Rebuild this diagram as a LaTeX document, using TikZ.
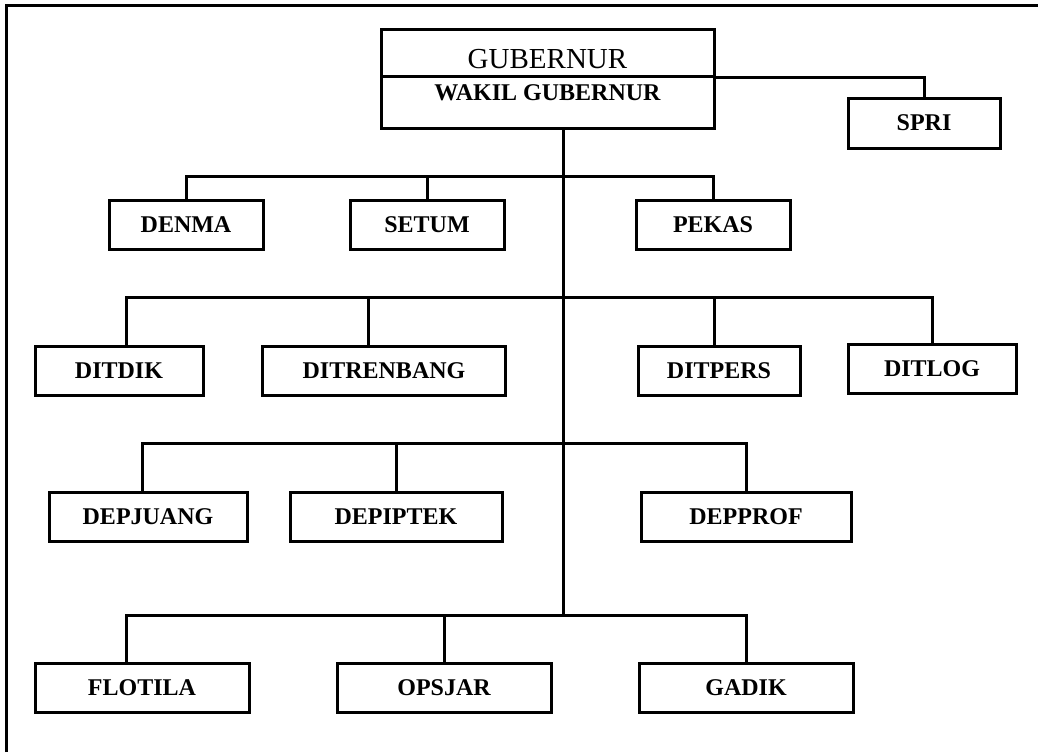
\documentclass[tikz,border=0pt]{standalone}
\usepackage{fontspec}
\setmainfont{Liberation Serif}
\tikzset{
  unit/.style={draw, line width=3pt, inner sep=0pt, minimum height=49pt,
    font=\bfseries\fontsize{24}{24}\selectfont},
  link/.style={line width=3pt}
}

\begin{document}
\begin{tikzpicture}[x=1pt, y=-1pt]
  \useasboundingbox (0,0) rectangle (1038,752);
  % frame
  \draw[line width=3pt] (6,752) -- (6,6) -- (1038,6);
  % top
  \node[unit, minimum width=333pt, minimum height=46pt,
    font=\fontsize{29}{29}\selectfont, text height=30pt, text depth=0pt]
    (gub) at (547.5,53) {GUBERNUR};
  \node[unit, minimum width=333pt, minimum height=52pt,
    text height=16pt, text depth=20pt] (wakil) at (547.5,102) {WAKIL GUBERNUR};
  \node[unit, minimum width=152pt, minimum height=50pt] (spri) at (924,123) {SPRI};
  % first row
  \node[unit, minimum width=154pt] (denma) at (186,225) {DENMA};
  \node[unit, minimum width=154pt] (setum) at (427,225) {SETUM};
  \node[unit, minimum width=154pt] (pekas) at (713,225) {PEKAS};
  % directorates
  \node[unit, minimum width=168pt] (ditdik) at (119,371) {DITDIK};
  \node[unit, minimum width=243pt] (ditrenbang) at (384,371) {DITRENBANG};
  \node[unit, minimum width=162pt] (ditpers) at (719,371) {DITPERS};
  \node[unit, minimum width=168pt] (ditlog) at (932,369) {DITLOG};
  % departments
  \node[unit, minimum width=198pt] (depjuang) at (148,517) {DEPJUANG};
  \node[unit, minimum width=212pt] (depiptek) at (396,517) {DEPIPTEK};
  \node[unit, minimum width=210pt] (depprof) at (746,517) {DEPPROF};
  % bottom row
  \node[unit, minimum width=214pt] (flotila) at (142,688) {FLOTILA};
  \node[unit, minimum width=214pt] (opsjar) at (444,688) {OPSJAR};
  \node[unit, minimum width=214pt] (gadik) at (746,688) {GADIK};
  % bus points on the trunk
  \coordinate (b1) at (563,176);
  \coordinate (b2) at (563,297);
  \coordinate (b3) at (563,443);
  \coordinate (b4) at (563,615);
  % connectors
  \draw[link] (gub.south east) -| (spri.north);
  \draw[link] (wakil.south -| b1) -- (b4);
  \draw[link] (denma.north) -- (denma.north |- b1) -- (pekas.north |- b1) -- (pekas.north);
  \draw[link] (setum.north |- b1) -- (setum.north);
  \draw[link] ([xshift=7pt]ditdik.north) -- ([xshift=7pt]ditdik.north |- b2)
    -- (ditlog.north |- b2) -- (ditlog.north);
  \draw[link] ([xshift=-16pt]ditrenbang.north |- b2) -- ([xshift=-16pt]ditrenbang.north);
  \draw[link] ([xshift=-5pt]ditpers.north |- b2) -- ([xshift=-5pt]ditpers.north);
  \draw[link] ([xshift=-6pt]depjuang.north) -- ([xshift=-6pt]depjuang.north |- b3)
    -- (depprof.north |- b3) -- (depprof.north);
  \draw[link] (depiptek.north |- b3) -- (depiptek.north);
  \draw[link] ([xshift=-16pt]flotila.north) -- ([xshift=-16pt]flotila.north |- b4)
    -- (gadik.north |- b4) -- (gadik.north);
  \draw[link] (opsjar.north |- b4) -- (opsjar.north);
\end{tikzpicture}
\end{document}
